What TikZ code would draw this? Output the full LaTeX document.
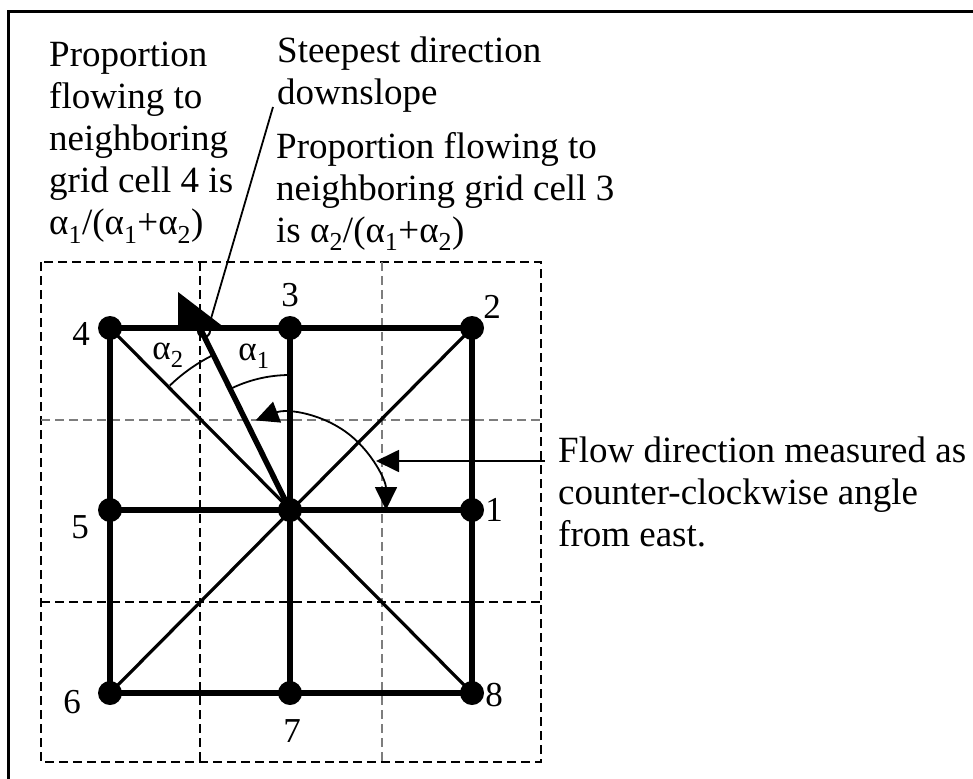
\documentclass[tikz,border=0pt]{standalone}
\usepackage{fontspec}
\setmainfont{Liberation Serif}
\usetikzlibrary{arrows.meta}

\begin{document}
\begin{tikzpicture}[x=1pt, y=-1pt, >={Triangle[length=23pt,width=22pt]},
    dot/.style={circle, fill, inner sep=0pt, minimum size=24pt},
    numlabel/.style={font=\fontsize{35}{42}\selectfont, inner sep=0pt},
    caption/.style={font=\fontsize{37}{42}\selectfont, align=left, anchor=north west, inner sep=0pt},
    cellline/.style={dash pattern=on 9pt off 5pt, line width=2.2pt},
    heavy/.style={line width=5.5pt},
    diag/.style={line width=3.2pt},
    thinline/.style={line width=1.8pt}]
    \definecolor{gridgrey}{RGB}{125,125,125}

    % 0. Trang và khung ngoài
    \useasboundingbox (0,0) rectangle (973,778);
    \fill[white] (0,0) rectangle (973,778);
    \clip (0,0) rectangle (973,778);
    \draw[line width=3pt] (8,800) -- (8,12) -- (990,12);

    % 1. Lưới ô nét đứt
    \draw[cellline] (41,262) rectangle (541,762);
    \draw[cellline] (200,262) -- (200,762);
    \draw[cellline, gridgrey] (382,262) -- (382,762);
    \draw[cellline, gridgrey] (41,420) -- (541,420);
    \draw[cellline] (41,602) -- (541,602);

    % 2. Các điểm lưới
    \node[dot] (c)  at (290,510) {};
    \node[dot] (n1) at (472,510) {};
    \node[dot] (n2) at (472,328) {};
    \node[dot] (n3) at (290,328) {};
    \node[dot] (n4) at (110,328) {};
    \node[dot] (n5) at (110,510) {};
    \node[dot] (n6) at (110,693) {};
    \node[dot] (n7) at (290,693) {};
    \node[dot] (n8) at (472,693) {};

    % 3. Các cạnh nối
    \draw[heavy] (n4.center) -- (n2.center) -- (n8.center) -- (n6.center) -- cycle;
    \draw[heavy] (n3.center) -- (n7.center);
    \draw[heavy] (n5.center) -- (n1.center);
    \draw[diag] (n4.center) -- (n8.center);
    \draw[diag] (n2.center) -- (n6.center);

    % 4. Hướng dốc nhất
    \coordinate (st) at (200,328);
    \draw[heavy] (c.center) -- (st);
    \fill (178,292) -- (178,328) -- (225,328) -- cycle;
    \draw[line width=2pt] (204,331) circle[radius=6pt];

    % 5. Các góc
    \draw[thinline] (c.center) ++(90:135pt) arc[start angle=90, end angle=117, radius=135pt];
    \draw[thinline] (c.center) ++(117:173pt) arc[start angle=117, end angle=134, radius=173pt];
    \draw[thinline, <->] (c.center) ++(111:96pt) arc[start angle=111, end angle=0, radius=96pt];
    \node[numlabel] (a2) at (168,355) {α\textsubscript{2}};
    \node[numlabel] (a1) at (254,356) {α\textsubscript{1}};

    % 6. Số hiệu ô
    \node[numlabel] (l1) at (494,510) {1};
    \node[numlabel] (l2) at (492,307) {2};
    \node[numlabel] (l3) at (290,295) {3};
    \node[numlabel] (l4) at (81,334) {4};
    \node[numlabel] (l5) at (80,527) {5};
    \node[numlabel] (l6) at (72,702) {6};
    \node[numlabel] (l7) at (292,731) {7};
    \node[numlabel] (l8) at (494,695) {8};

    % 7. Chú thích
    \node[caption] (left) at (49,42) {Proportion\\flowing to\\neighboring\\grid cell 4 is\\α\textsubscript{1}/(α\textsubscript{1}+α\textsubscript{2})};
    \node[caption] (steep) at (277,37) {Steepest direction\\downslope};
    \node[caption] (right) at (276,132) {Proportion flowing to\\neighboring grid cell 3\\is α\textsubscript{2}/(α\textsubscript{1}+α\textsubscript{2})};
    \node[caption] (flow) at (558,437) {Flow direction measured as\\counter-clockwise angle\\from east.};

    % 8. Đường dẫn chú thích
    \coordinate (ss) at (273,107);
    \coordinate (se) at (210,322);
    \draw[thinline] (ss) -- (se);
    \coordinate (fs) at (545,461);
    \coordinate (ft) at (376,461);
    \draw[thinline, ->] (fs) -- (ft);
\end{tikzpicture}
\end{document}
